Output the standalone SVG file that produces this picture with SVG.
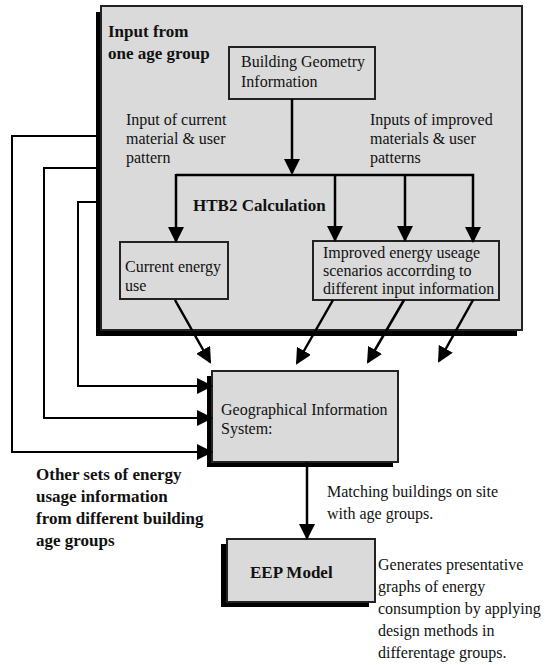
<svg xmlns="http://www.w3.org/2000/svg" width="545" height="665" viewBox="0 0 545 665" font-family="Liberation Serif, serif">
<style>
text{font-family:'Liberation Serif',serif}
.t{font-size:16px;fill:#111}
.b{font-size:17px;font-weight:bold;fill:#111}
.box{fill:#dadada;stroke:#222;stroke-width:2}
.sh{fill:#000}
.c{fill:none;stroke:#000;stroke-width:2.5}
.f{fill:none;stroke:#000;stroke-width:2}
</style>
<defs>
<marker id="ah" viewBox="0 0 16 16" markerWidth="16" markerHeight="16" refX="14" refY="8" orient="auto" markerUnits="userSpaceOnUse">
<path d="M0,0 L16,8 L0,16 z" fill="#000"/>
</marker>
</defs>
<rect width="545" height="665" fill="#fff"/>
<g id="input-group">
<rect class="sh" x="96" y="12" width="421" height="324"/>
<rect class="box" x="101" y="6" width="421" height="324" stroke-width="1.5"/>
<text class="b" x="108" y="37">Input from</text>
<text class="b" x="108" y="59">one age group</text>
<text class="t" x="126" y="125">Input of current</text>
<text class="t" x="126" y="144">material &amp; user</text>
<text class="t" x="126" y="163">pattern</text>
<text class="t" x="370" y="125">Inputs of improved</text>
<text class="t" x="370" y="144">materials &amp; user</text>
<text class="t" x="370" y="163">patterns</text>
<text class="b" x="193" y="211">HTB2 Calculation</text>
</g>
<g id="building-geometry">
<rect class="box" x="229" y="47" width="146" height="52"/>
<text class="t" x="241" y="67">Building Geometry</text>
<text class="t" x="241" y="87">Information</text>
</g>
<g id="current-energy">
<rect class="box" x="120" y="242" width="108" height="57"/>
<text class="t" x="125" y="272">Current energy</text>
<text class="t" x="125" y="291">use</text>
</g>
<g id="improved-energy">
<rect class="box" x="313" y="241" width="186" height="59"/>
<text class="t" x="323" y="258">Improved energy useage</text>
<text class="t" x="323" y="276">scenarios accorrding to</text>
<text class="t" x="323" y="294">different input information</text>
</g>
<g id="gis">
<rect class="sh" x="207" y="376" width="186" height="91"/>
<rect class="box" x="212" y="371" width="186" height="91"/>
<text class="t" x="221" y="415">Geographical Information</text>
<text class="t" x="221" y="434">System:</text>
</g>
<g id="eep-model">
<rect class="sh" x="221" y="544" width="148" height="63"/>
<rect class="box" x="227" y="539" width="148" height="63"/>
<text class="b" x="250" y="578">EEP Model</text>
</g>
<g id="labels">
<text class="b" x="36" y="480">Other sets of energy</text>
<text class="b" x="36" y="502">usage information</text>
<text class="b" x="36" y="524">from different building</text>
<text class="b" x="36" y="546">age groups</text>
<text class="t" x="327" y="497">Matching buildings on site</text>
<text class="t" x="327" y="519">with age groups.</text>
<text class="t" x="378" y="570">Generates presentative</text>
<text class="t" x="378" y="592">graphs of energy</text>
<text class="t" x="378" y="614">consumption by applying</text>
<text class="t" x="378" y="636">design methods in</text>
<text class="t" x="378" y="658">differentage groups.</text>
</g>
<g id="connectors">
<line class="c" x1="292" y1="99" x2="292" y2="173" marker-end="url(#ah)"/>
<polyline class="c" points="176,175 473,175 473,241" marker-end="url(#ah)"/>
<line class="c" x1="176" y1="174" x2="176" y2="241" marker-end="url(#ah)"/>
<line class="c" x1="335" y1="175" x2="335" y2="240" marker-end="url(#ah)"/>
<line class="c" x1="405" y1="175" x2="405" y2="240" marker-end="url(#ah)"/>
<line class="c" x1="175" y1="300" x2="210" y2="362" marker-end="url(#ah)"/>
<line class="c" x1="333" y1="300" x2="297" y2="363" marker-end="url(#ah)"/>
<line class="c" x1="404" y1="300" x2="368" y2="362" marker-end="url(#ah)"/>
<line class="c" x1="473" y1="300" x2="439" y2="361" marker-end="url(#ah)"/>
<polyline class="f" points="97,136 12,136 12,452 211,452" marker-end="url(#ah)"/>
<polyline class="f" points="97,168 44,168 44,418 211,418" marker-end="url(#ah)"/>
<polyline class="f" points="97,202 78,202 78,386 211,386" marker-end="url(#ah)"/>
<line class="c" x1="307" y1="462" x2="307" y2="538" marker-end="url(#ah)"/>
</g>
</svg>
